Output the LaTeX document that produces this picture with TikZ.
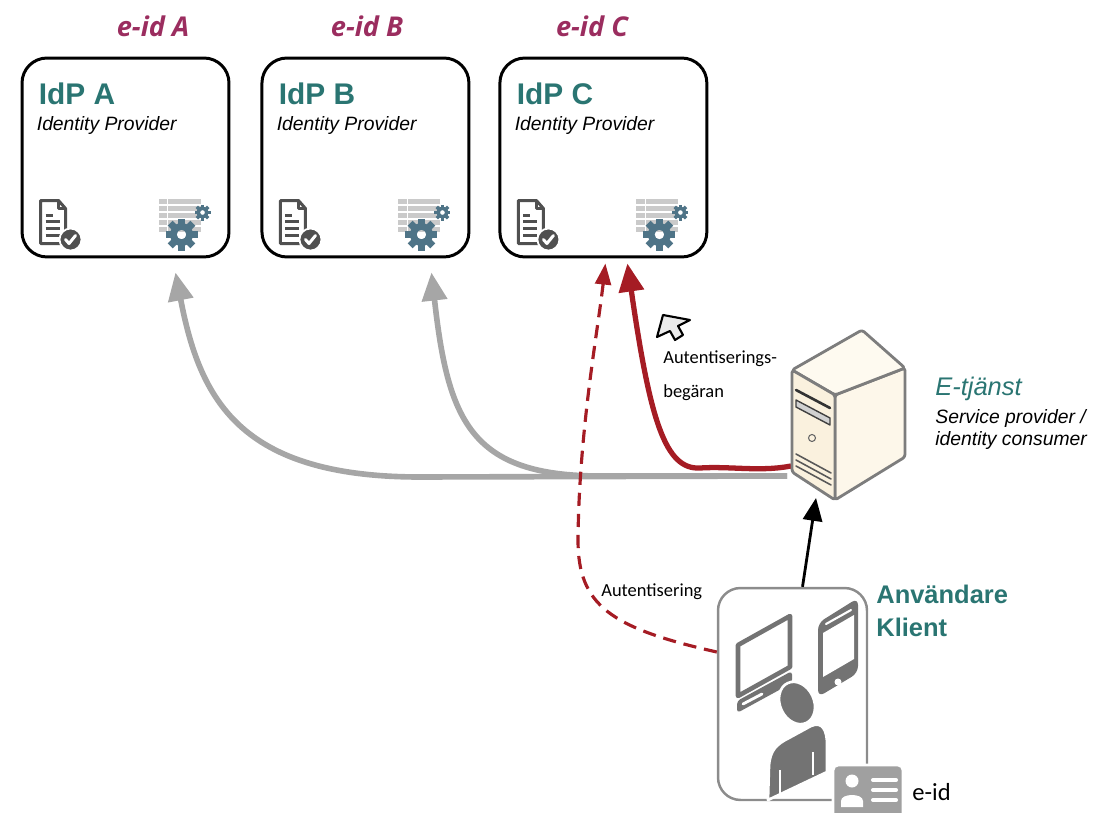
\documentclass[tikz,border=0pt]{standalone}
\usepackage{fontspec}
\setmainfont{Liberation Sans}
\newfontfamily\eidfont{Open Sans}
\newfontfamily\handfont{Carlito}
\usetikzlibrary{arrows.meta,positioning}

\definecolor{idpteal}{RGB}{42,117,114}
\definecolor{eidred}{RGB}{155,45,95}
\definecolor{arrowred}{RGB}{165,28,36}
\definecolor{arrowgray}{RGB}{166,166,166}
\definecolor{icondark}{RGB}{80,80,80}
\definecolor{gearblue}{RGB}{79,116,135}
\definecolor{tablegray}{RGB}{202,202,202}
\definecolor{clientline}{RGB}{140,140,140}
\definecolor{clientgray}{RGB}{115,115,115}
\definecolor{cardgray}{RGB}{160,160,160}
\definecolor{srvline}{RGB}{125,125,125}
\definecolor{srvside}{RGB}{253,247,234}
\definecolor{srvfront}{RGB}{250,241,222}
\definecolor{srvtop}{RGB}{254,250,240}

\tikzset{
  idp/.style={draw, line width=1.7pt, rounded corners=0.5cm, fill=white,
    minimum width=4.14cm, minimum height=3.98cm},
  clientbox/.style={draw=clientline, line width=1.4pt, rounded corners=0.45cm,
    minimum width=2.98cm, minimum height=4.24cm},
  txt/.style={inner sep=0, anchor=base west},
  idptitle/.style={txt, text=idpteal, font=\fontsize{17}{20}\selectfont\bfseries},
  idpsub/.style={txt, font=\fontsize{11}{13}\selectfont\itshape},
  eidlabel/.style={inner sep=0, anchor=base, text=eidred,
    font=\eidfont\fontsize{15.5}{18}\selectfont\bfseries\itshape},
  hand/.style={txt, font=\handfont\fontsize{10.5}{12}\selectfont},
  grayarrow/.style={draw=arrowgray, line width=3.2pt, -{Triangle[length=16pt,width=14pt]}},
  redarrow/.style={draw=arrowred, line width=3pt, -{Triangle[length=16pt,width=14pt]}},
  reddash/.style={draw=arrowred, line width=1.8pt, dash pattern=on 7.5pt off 4.5pt,
    -{Triangle[length=12pt,width=9pt]}},
  blackarrow/.style={draw=black, line width=1.6pt, -{Triangle[length=13pt,width=11pt]}},
  % small icons, drawn in pixel-sized units
  docicon/.pic={
    \draw[icondark, line width=1.7pt, line join=round, fill=white]
      (0,0) -- (18,0) -- (25,8) -- (25,43) -- (0,43) -- cycle;
    \draw[icondark, line width=1.4pt, line join=round] (18,0) -- (18,8) -- (25,8);
    \foreach \y/\l in {15/12, 21/19, 28/19, 35/19}
      \draw[icondark, line width=1.5pt] (5,\y) -- (\l,\y);
    \fill[icondark, draw=white, line width=1pt] (30,39) circle (11);
    \draw[white, line width=1.7pt, line cap=round, line join=round]
      (25,39) -- (28.5,43) -- (35,35);
  },
  gear/.pic={
    \fill[gearblue, even odd rule] (0,0) circle (0.72) (0,0) circle (0.3);
    \foreach \a in {0,45,...,315}
      \fill[gearblue, rotate=\a] (-0.22,0.6) rectangle (0.22,1);
  },
  gearicon/.pic={
    \foreach \r in {0,7,...,28}
      \fill[tablegray] (0,\r) rectangle (42,\r+5.5);
    \draw[white, line width=1pt] (9,0) -- (9,34);
    \pic[scale=16] at (23,36) {gear};
    \pic[scale=8] at (44,14) {gear};
  }
}

\begin{document}
\begin{tikzpicture}[x=0.02cm, y=-0.02cm]
\useasboundingbox (0,0) rectangle (1094,813);

% identity providers
\node[idp] (idpA) at (125.5,157.5) {};
\node[idp, right=0.6cm of idpA] (idpB) {};
\node[idp, right=0.56cm of idpB] (idpC) {};

\foreach \n in {A,B,C}{
  \node[idptitle] (title\n) at ([shift={(18,48)}]idp\n.north west) {IdP \n};
  \node[idpsub] (sub\n) at ([shift={(16,74)}]idp\n.north west) {Identity Provider};
  \pic at ([shift={(20,144)}]idp\n.north west) {docicon};
  \pic at ([shift={(138,142)}]idp\n.north west) {gearicon};
}
\foreach \n/\x in {A/153, B/367, C/592}
  \node[eidlabel] (eid\n) at (\x,37) {e-id \n};

% service provider
\coordinate (srvG) at (787,476);
\coordinate (srvL) at (791,466);
\coordinate (srvB) at (816,498);

% client
\node[clientbox] (client) at (792.5,694) {};

% requests to the IdPs
\draw[grayarrow] (srvG) -- (420,477) .. controls (240,477) and (200,400) .. ([shift={(50,14)}]idpA.south);
\draw[grayarrow] (srvG) -- (600,476) .. controls (470,476) and (448,420) .. ([shift={(66,14)}]idpB.south);
\draw[reddash] ([shift={(0,-42)}]client.west) .. controls (610,628) and (578,605) .. (578,540)
  .. controls (579,430) and (598,330) .. ([shift={(2,5)}]idpC.south);
\draw[redarrow] (srvL) .. controls (760,472) and (730,466) .. (700,468)
  .. controls (665,470) and (650,420) .. ([shift={(24,5)}]idpC.south);

% cursor
\draw[fill=white!92!black, line width=1.2pt, line join=round]
  (663,315) -- (690,320) -- (678,326) -- (683,335) -- (675,340) -- (670,331) -- (657,337) -- cycle;

% server tower
\draw[srvline, fill=srvside, line width=1.6pt, line join=round, rounded corners=1.5pt]
  (835,395) -- (905,368) -- (905,457) -- (835,500) -- cycle;
\draw[srvline, fill=srvtop, line width=1.6pt, line join=round, rounded corners=1.5pt]
  (792,370) -- (862,330) -- (905,368) -- (835,395) -- cycle;
\draw[srvline, fill=srvfront, line width=1.6pt, line join=round, rounded corners=1.5pt]
  (792,370) -- (835,395) -- (835,500) -- (792,472) -- cycle;
\draw[black!80, line width=1.5pt, line cap=round] (796,390) -- (830,408);
\draw[black!75, fill=black!18, line width=0.8pt, line join=round]
  (796,400) -- (830,418) -- (830,425) -- (796,407) -- cycle;
\draw[black!60, line width=0.6pt] (812,438) circle (3.5);
\foreach \k in {0,6,12}
  \draw[black!65, line width=0.9pt, line cap=round] (796,454+\k) -- (831,473+\k);

\draw[blackarrow] ([shift={(10,0)}]client.north) -- (srvB);

% devices and user inside the client
\draw[clientgray, line width=2.6pt, line join=round, fill=white]
  (738,645) -- (790,616) -- (790,667) -- (738,696) -- cycle;
\fill[clientgray, rounded corners=2pt] (737,701) -- (792,671) -- (792,683) -- (737,713) -- cycle;
\draw[white, line width=1.6pt, line cap=round] (743,704) -- (762,694);
\fill[clientgray, rounded corners=4pt] (818,623) -- (858,598) -- (858,673) -- (818,697) -- cycle;
\fill[white] (823,633) -- (854,615) -- (854,659) -- (823,677) -- cycle;
\draw[white, line width=1.2pt, line cap=round] (826,624) -- (851,610);
\fill[white] (838,682) circle (3.5);
\filldraw[clientgray, draw=white, line width=1.5pt, rotate around={25:(797,703)}]
  (797,703) ellipse (17 and 22);
\filldraw[clientgray, draw=white, line width=1.5pt, line join=round]
  (768,800) -- (769,766) .. controls (770,750) and (777,744) .. (789,738)
  -- (811,726) .. controls (822,721) and (827,730) .. (827,744) -- (827,772) -- cycle;
\draw[white, line width=1.3pt] (780,770) -- (780,793) (813,752) -- (813,775);

% e-id card
\filldraw[cardgray, draw=white, line width=1.5pt, rounded corners=3pt] (833,765) rectangle (903,825);
\fill[white] (852,781) circle (6.5);
\fill[white] (841,807) -- (841,801) .. controls (841,793) and (863,793) .. (863,801) -- (863,807) -- cycle;
\foreach \y in {780,790,800}
  \draw[white, line width=2.3pt, line cap=round] (873,\y) -- (896,\y);

% texts
\node[hand] (req1) at (663,364) {Autentiserings-};
\node[hand] (req2) at (663,398) {begäran};
\node[hand] (auth) at (601,596) {Autentisering};
\node[txt, text=idpteal, font=\fontsize{14.5}{17}\selectfont\itshape] (sp) at (935,396) {E-tjänst};
\node[idpsub] (sp1) at (935,424) {Service provider /};
\node[idpsub] (sp2) at (935,446) {identity consumer};
\node[txt, text=idpteal, font=\fontsize{14.5}{17}\selectfont\bfseries] (usr1) at (876,603) {Användare};
\node[txt, text=idpteal, font=\fontsize{14.5}{17}\selectfont\bfseries] (usr2) at (876,636) {Klient};
\node[txt, font=\handfont\fontsize{14}{16}\selectfont] (eid) at (912,800) {e-id};
\end{tikzpicture}
\end{document}
